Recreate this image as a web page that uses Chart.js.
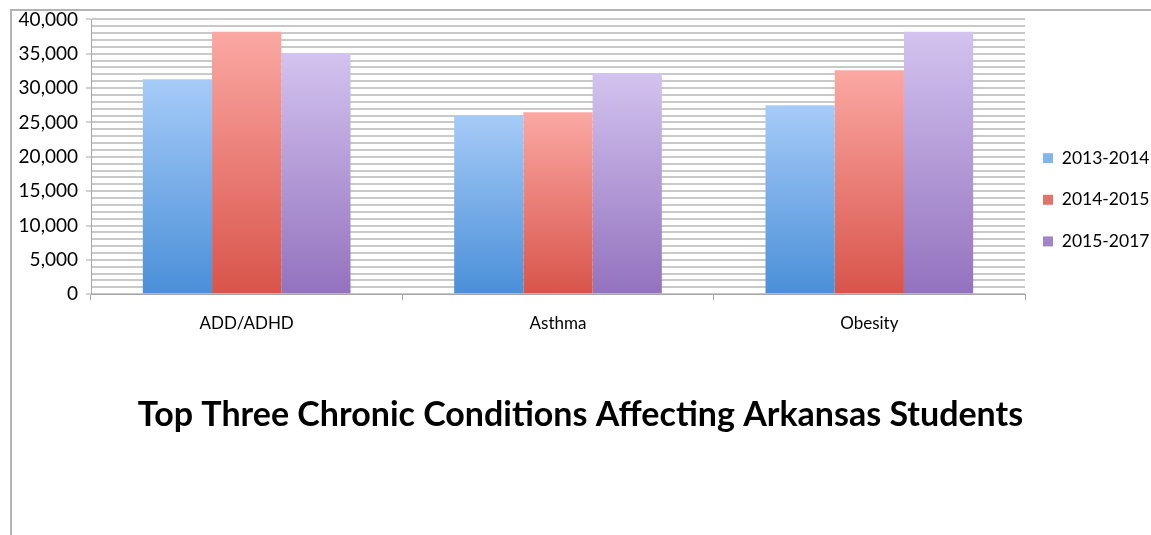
<!DOCTYPE html>
<html>
<head>
<meta charset="utf-8">
<script src="https://cdn.jsdelivr.net/npm/chart.js@4.4.1/dist/chart.umd.min.js"></script>
<style>
  body { margin: 0; background: #fff; }
  .frame { position: absolute; left: 10px; top: 9px; width: 1141px; height: 526px;
           border-top: 2px solid #b3b3b3; border-left: 2px solid #b3b3b3; }
  .wrap { position: absolute; left: 0; top: 0; width: 1151px; height: 535px; }
</style>
</head>
<body>
<div class="frame"></div>
<div class="wrap"><canvas id="myChart"></canvas></div>
<script>
const categories = ['ADD/ADHD', 'Asthma', 'Obesity'];
const seriesNames = ['2013-2014', '2014-2015', '2015-2017'];
const values2013 = [31300, 26000, 27500];
const values2014 = [38200, 26500, 32600];
const values2015 = [35100, 32200, 38200];

// bar shading, light at the top and darker at the base
function shade(top, bottom, mid) {
  return function (c) {
    const chart = c.chart;
    if (!chart.chartArea || c.type !== 'data') return mid;
    const y = chart.scales.y;
    const g = chart.ctx.createLinearGradient(0, y.getPixelForValue(c.raw), 0, y.getPixelForValue(0));
    g.addColorStop(0, top);
    g.addColorStop(1, bottom);
    return g;
  };
}

Chart.defaults.font.family = 'Lato, "Open Sans", sans-serif';
Chart.defaults.color = '#000';

const ctx = document.getElementById('myChart');
new Chart(ctx, {
  type: 'bar',
  data: {
    labels: categories,
    datasets: [{
      label: seriesNames[0],
      data: values2013,
      backgroundColor: shade('#a6cbf8', '#4a8fd8', '#5b9be0'),
      borderWidth: 0,
    }, {
      label: seriesNames[1],
      data: values2014,
      backgroundColor: shade('#fba8a3', '#d8544a', '#e5625a'),
      borderWidth: 0,
    }, {
      label: seriesNames[2],
      data: values2015,
      backgroundColor: shade('#d3c3ef', '#9372be', '#a484cc'),
      borderWidth: 0,
    }]
  },
  options: {
    responsive: true,
    maintainAspectRatio: false,
    animation: false,
    layout: {
      padding: { left: 10, top: 19, right: 0, bottom: 0 }
    },
    datasets: {
      bar: { barPercentage: 1, categoryPercentage: 0.667 }
    },
    scales: {
      x: {
        border: { color: '#a6a6a6', width: 1 },
        grid: { drawOnChartArea: false, drawTicks: true, tickLength: 6, color: '#a6a6a6' },
        ticks: { font: { size: 17 }, padding: 13 },
        afterFit: function (scale) { scale.height = 90; }
      },
      y: {
        min: 0,
        max: 40000,
        border: { color: '#a6a6a6', width: 1 },
        grid: {
          color: '#c9c9c9',
          lineWidth: 2,
          tickLength: 5,
          tickColor: function (c) { return c.tick && c.tick.value % 5000 === 0 ? '#a6a6a6' : 'rgba(0,0,0,0)'; },
          tickWidth: 1
        },
        ticks: {
          stepSize: 1000,
          autoSkip: false,
          padding: 8,
          font: { size: 19 },
          callback: function (v) { return v % 5000 === 0 ? v.toLocaleString('en-US') : ''; }
        },
        afterFit: function (scale) { scale.width = 81; }
      }
    },
    plugins: {
      legend: {
        position: 'right',
        align: 'start',
        maxWidth: 126,
        title: { display: true, text: ' ', font: { size: 12 }, padding: { top: 98, bottom: 0 } },
        labels: {
          boxWidth: 10,
          boxHeight: 10,
          padding: 18,
          font: { size: 17.5, lineHeight: 1.35 },
          // wrapping the text in an array makes the row height follow the line height
          generateLabels: function (chart) {
            const items = Chart.defaults.plugins.legend.labels.generateLabels(chart);
            items.forEach(function (it) { it.text = [it.text]; });
            return items;
          }
        }
      },
      title: {
        display: true,
        position: 'bottom',
        text: 'Top Three Chronic Conditions Affecting Arkansas Students',
        font: { size: 34, weight: 'bold' },
        padding: { top: 10, bottom: 100 }
      },
      tooltip: { enabled: false }
    }
  }
});
</script>
</body>
</html>
